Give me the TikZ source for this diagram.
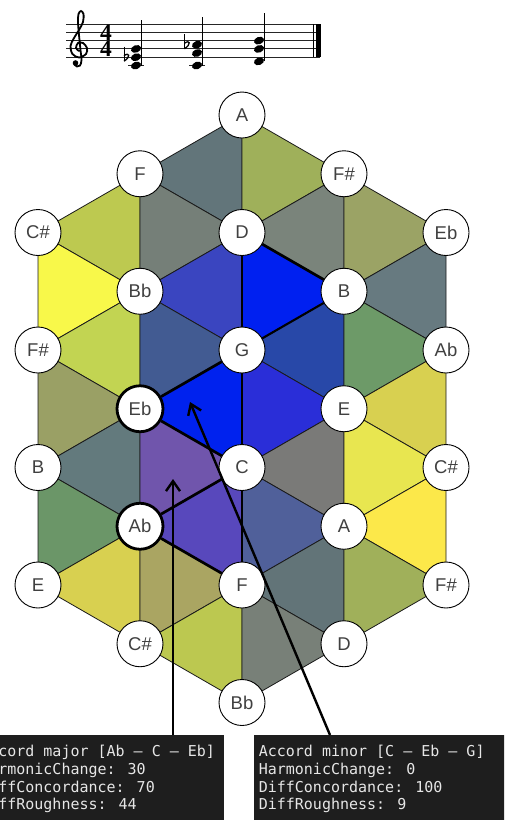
\documentclass[tikz,border=0pt]{standalone}
\usepackage{fontspec}
\setmainfont{Liberation Sans}
\newfontfamily\codefont{DejaVu Sans Mono}
\newfontfamily\tsfont{Liberation Serif}
\usetikzlibrary{arrows.meta}
\definecolor{labelgray}{HTML}{404040}
\definecolor{boxbg}{HTML}{1E1E1E}
\definecolor{boxtext}{HTML}{E6E6E6}
\definecolor{edgec}{HTML}{1A1A1A}
\begin{document}
\begin{tikzpicture}[x=1pt,y=-1pt,
  pc/.style={circle, draw=black, line width=0.9pt, fill=white, minimum size=46pt, inner sep=0pt,
    font=\fontsize{18.5}{18.5}\selectfont, text=labelgray},
  pcbold/.style={pc, line width=2.8pt},
  tri/.style={draw=edgec, line width=0.8pt, line join=round},
  chordedge/.style={line width=2.7pt, black},
  chordedgeb/.style={line width=2.1pt, black},
  pointer/.style={line width=2.4pt, black, -{Straight Barb[length=10pt,width=14pt]}},
  databox/.style={fill=boxbg, draw=none, inner sep=0pt, minimum width=260pt, minimum height=100pt},
  dataline/.style={anchor=base west, font=\codefont\fontsize{15}{15}\selectfont, text=boxtext, inner sep=0pt},
  staffline/.style={line width=0.9pt, black!85},
  stemline/.style={line width=1pt, black},
  tsig/.style={anchor=center, inner sep=0pt, align=center, font=\tsfont\bfseries\fontsize{23.5}{16.6}\selectfont},
]
\useasboundingbox (0,0) rectangle (504,820);
\clip (0,0) rectangle (504,820);

% ---------- staff ----------
\foreach \i in {0,...,4} \draw[staffline] (66,{24+8.3*\i}) -- (320,{24+8.3*\i});
\draw[line width=0.9pt] (313,24) -- (313,57.2);
\draw[line width=4.5pt] (318.5,24) -- (318.5,57.2);
% treble clef
\draw[line width=1.8pt, line cap=round] plot[smooth, tension=0.55] coordinates {
  (79,51) (76,48) (78,43) (83,43) (87,48) (86,54) (79,57.5) (72.5,54) (70.5,46) (74,38)
  (79,30) (83,22) (83.5,14) (81,11) (78.5,14) (78,22) (79,35) (80.5,50) (81.5,60)
  (80,65.5) (77,66.5) (74.5,64.5)};
\fill (75.5,63) circle (2.8);
% time signature
\node[tsig] (ts) at (106,40.9) {4\\4};
% ledger lines
\draw[staffline] (128,65.5) -- (144,65.5);
\draw[staffline] (189,65.5) -- (205,65.5);
% noteheads
\foreach \nx/\ny in {136/65.5, 136/57.2, 136/48.9, 197/65.5, 197/53.05, 197/44.75, 259/61.35, 259/48.9, 259/40.6}
  \fill[rotate around={20:(\nx,\ny)}] (\nx,\ny) ellipse [x radius=5.2, y radius=3.7];
% stems
\draw[stemline] (141,65.5) -- (141,20);
\draw[stemline] (202,65.5) -- (202,16.5);
\draw[stemline] (264,61.35) -- (264,13);
% flats
\foreach \fx/\fy in {124/57.2, 184.5/44.75} {
  \draw[line width=0.9pt] (\fx,\fy-10.5) -- (\fx,\fy+4);
  \draw[line width=1.3pt] (\fx,\fy+4) .. controls (\fx+7,\fy-0.5) and (\fx+5.5,\fy-5.5) .. (\fx,\fy-1.5);
}

% ---------- lattice ----------
\foreach \c/\r in {2/0,1/1,3/1,0/2,2/2,4/2,1/3,3/3,0/4,2/4,4/4,1/5,3/5,0/6,2/6,4/6,1/7,3/7,0/8,2/8,4/8,1/9,3/9,2/10}
  \coordinate (c-\c-\r) at ({38+102*\c},{115+58.75*\r});

\foreach \a/\b/\c/\d/\e/\f/\col in {
  1/1/0/2/1/3/BDC950, 0/2/1/3/0/4/F8F84A, 1/3/0/4/1/5/C2D452, 0/4/1/5/0/6/9AA065,
  1/5/0/6/1/7/637A7D, 0/6/1/7/0/8/6B9668, 1/7/0/8/1/9/D8D050,
  2/0/1/1/2/2/62757A, 1/1/2/2/1/3/757F78, 2/2/1/3/2/4/3A45C0, 1/3/2/4/1/5/425B92,
  2/4/1/5/2/6/0022EE, 1/5/2/6/1/7/7055AC, 2/6/1/7/2/8/5848BC, 1/7/2/8/1/9/AAA562,
  2/8/1/9/2/10/BCC850,
  2/0/3/1/2/2/9FB05A, 3/1/2/2/3/3/7A847B, 2/2/3/3/2/4/0020F0, 3/3/2/4/3/5/2848A8,
  2/4/3/5/2/6/2A2ED8, 3/5/2/6/3/7/7A7A78, 2/6/3/7/2/8/50609A, 3/7/2/8/3/9/627478,
  2/8/3/9/2/10/788078,
  3/1/4/2/3/3/9BA365, 4/2/3/3/4/4/677A80, 3/3/4/4/3/5/6D9A68, 4/4/3/5/4/6/D8D050,
  3/5/4/6/3/7/E8E650, 4/6/3/7/4/8/FCE84A, 3/7/4/8/3/9/A0B05A}
{
  \definecolor{tc}{HTML}{\col}
  \filldraw[tri, fill=tc] (c-\a-\b) -- (c-\c-\d) -- (c-\e-\f) -- cycle;
}

\foreach \c/\r/\lab in {2/0/A, 1/1/F, 3/1/F\#, 0/2/C\#, 2/2/D, 4/2/Eb, 1/3/Bb, 3/3/B,
  0/4/F\#, 2/4/G, 4/4/Ab, 3/5/E, 0/6/B, 2/6/C, 4/6/C\#, 3/7/A, 0/8/E, 2/8/F, 4/8/F\#,
  1/9/C\#, 3/9/D, 2/10/Bb}
  \node[pc] (n-\c-\r) at (c-\c-\r) {\lab};
\node[pcbold] (n-1-5) at (c-1-5) {Eb};
\node[pcbold] (n-1-7) at (c-1-7) {Ab};

% chord path edges
\draw[chordedge] (n-2-2) -- (n-2-4);
\draw[chordedge] (n-2-2) -- (n-3-3);
\draw[chordedgeb] (n-3-3) -- (n-2-4);
\draw[chordedge] (n-2-4) -- (n-1-5);
\draw[chordedge] (n-1-5) -- (n-2-6);
\draw[chordedgeb] (n-2-4) -- (n-2-6);
\draw[chordedge] (n-1-7) -- (n-2-6);
\draw[chordedge] (n-1-7) -- (n-2-8);
\draw[chordedgeb] (n-2-6) -- (n-2-8);

% ---------- info boxes ----------
\node[databox, anchor=north east] (boxL) at (224,735) {};
\node[databox, anchor=north west] (boxR) at (254,735) {};
\node[dataline] (l1) at (-1.9,756.7) {cord major [Ab – C – Eb]};
\node[dataline] (l2) at (-1.9,774.4) {rmonicChange: 30};
\node[dataline] (l3) at (-1.9,792.1) {ffConcordance: 70};
\node[dataline] (l4) at (-1.9,809.8) {ffRoughness: 44};
\node[dataline] (r1) at (258.6,756.7) {Accord minor [C – Eb – G]};
\node[dataline] (r2) at (258.6,774.4) {HarmonicChange: 0};
\node[dataline] (r3) at (258.6,792.1) {DiffConcordance: 100};
\node[dataline] (r4) at (258.6,809.8) {DiffRoughness: 9};

% pointers
\coordinate (tipA) at (173,479);
\coordinate (tipB) at (190,402);
\draw[pointer] ([xshift=-51pt]boxL.north east) -- (tipA);
\draw[pointer] ([xshift=76pt]boxR.north west) -- (tipB);
\end{tikzpicture}
\end{document}
